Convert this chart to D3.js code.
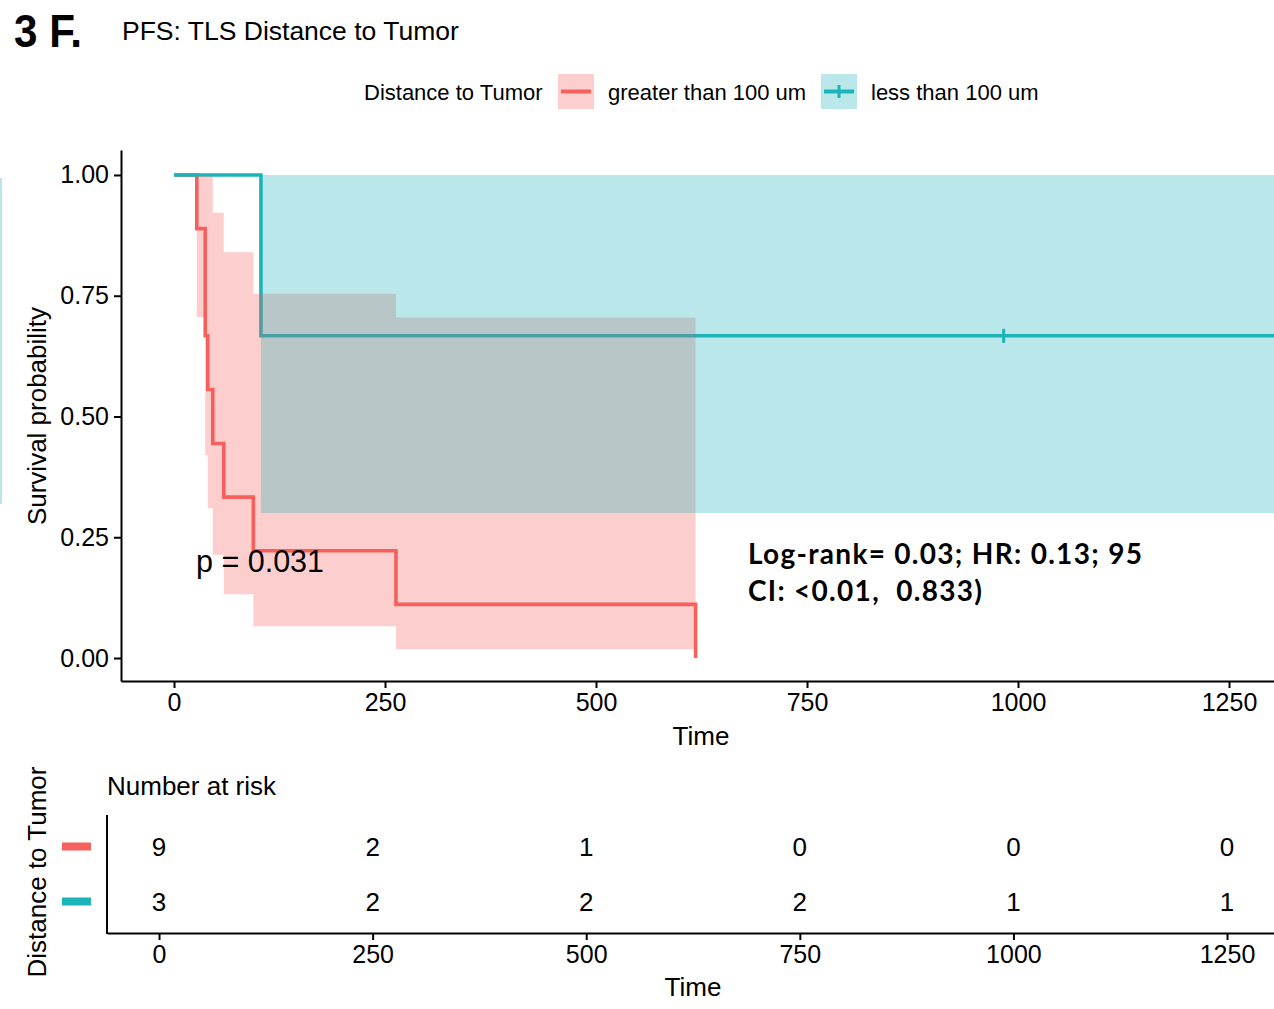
<!DOCTYPE html>
<html><head><meta charset="utf-8">
<script src="https://cdn.jsdelivr.net/npm/d3@7"></script>
<style>
html,body{margin:0;padding:0;background:#fff;overflow:hidden}
text{font-family:"Liberation Sans",Arial,sans-serif;fill:#000}
</style></head>
<body><svg id="c" width="1274" height="1009"></svg>
<script>
// ---- data ----
const groups = ["greater than 100 um", "less than 100 um"];
const colors = ["#F5615C", "#1CB4B8"];
// group 1: greater than 100 um (KM estimate with 95% CI)
const redTime  = [0, 27, 37, 40, 46, 59, 94, 263, 618];
const redSurv  = [1, 0.889, 0.667, 0.556, 0.444, 0.333, 0.222, 0.111, 0];
const redLower = [1, 0.706, 0.420, 0.310, 0.214, 0.132, 0.066, 0.018, 0.018];
const redUpper = [1, 1.000, 1.000, 0.997, 0.922, 0.840, 0.754, 0.705, 0.705];
// group 2: less than 100 um
const cyanTime  = [0, 103, 1312];
const cyanSurv  = [1, 0.667, 0.667];
const cyanLower = [1, 0.300, 0.300];
const cyanUpper = [1, 1.000, 1.000];
const cyanCensor = [983];
const xTicks = [0, 250, 500, 750, 1000, 1250];
const yTicks = [0, 0.25, 0.5, 0.75, 1];
const riskTimes = [0, 250, 500, 750, 1000, 1250];
const riskRed  = [9, 2, 1, 0, 0, 0];
const riskCyan = [3, 2, 2, 2, 1, 1];

// ---- drawing ----
const svg = d3.select("#c");
const FONT = '"Liberation Sans",Arial,sans-serif';

// stray strip at far left (part of the cropped figure)
svg.append("rect").attr("x",0).attr("y",178).attr("width",2).attr("height",326).attr("fill","#B9E5E7");

// titles
svg.append("text").attr("x",14).attr("y",47).text("3 F.")
  .attr("textLength",68).attr("lengthAdjust","spacingAndGlyphs")
  .style("font-weight","bold").style("font-size","46px");
svg.append("text").attr("x",122).attr("y",40).text("PFS: TLS Distance to Tumor").style("font-size","26.5px");

// main scales
const x = d3.scaleLinear().domain([-62.8, 1311.6]).range([121, 1281]);
const y = d3.scaleLinear().domain([-0.0476, 1.0517]).range([681, 150]);

const defs = svg.append("defs");
defs.append("clipPath").attr("id","panel").append("rect")
  .attr("x",121).attr("y",150).attr("width",1160).attr("height",531);

const g = svg.append("g").attr("clip-path","url(#panel)");

function steps(t, v) { return t.map((d,i)=>({t:d, v:v[i]})); }
function band(t, lo, hi) { return t.map((d,i)=>({t:d, lo:lo[i], hi:hi[i]})); }

const line = d3.line().curve(d3.curveStepAfter).x(d=>x(d.t)).y(d=>y(d.v));
const area = d3.area().curve(d3.curveStepAfter).x(d=>x(d.t)).y0(d=>y(d.lo)).y1(d=>y(d.hi));

// lines
g.append("path").attr("d", line(steps(redTime, redSurv)))
  .attr("fill","none").attr("stroke",colors[0]).attr("stroke-width",3.6);
g.append("path").attr("d", line(steps(cyanTime, cyanSurv)))
  .attr("fill","none").attr("stroke",colors[1]).attr("stroke-width",3.6);
// censor marks
const survAt = t => cyanSurv[d3.bisectRight(cyanTime, t) - 1];
g.selectAll(".cens").data(cyanCensor).enter().append("line")
  .attr("x1",d=>x(d)).attr("x2",d=>x(d))
  .attr("y1",d=>y(survAt(d))-7).attr("y2",d=>y(survAt(d))+7)
  .attr("stroke",colors[1]).attr("stroke-width",3);

// ribbons (drawn over lines, alpha 0.3)
g.append("path").attr("d", area(band(redTime.slice(1), redLower.slice(1), redUpper.slice(1))))
  .attr("fill",colors[0]).attr("fill-opacity",0.3);
g.append("path").attr("d", area(band(cyanTime.slice(1), cyanLower.slice(1), cyanUpper.slice(1))))
  .attr("fill",colors[1]).attr("fill-opacity",0.3);

// axes
function styleAxis(sel){
  sel.selectAll("path.domain").attr("stroke","#000").attr("stroke-width",2);
  sel.selectAll(".tick line").attr("stroke","#000").attr("stroke-width",2);
  sel.selectAll(".tick text").style("font-family",FONT).style("font-size","25px").attr("fill","#000");
}
const xa = svg.append("g").attr("transform","translate(0,681)")
  .call(d3.axisBottom(x).tickValues(xTicks).tickFormat(d3.format("d")).tickSize(7).tickSizeOuter(0).tickPadding(5));
styleAxis(xa);
const ya = svg.append("g").attr("transform","translate(121,0)")
  .call(d3.axisLeft(y).tickValues(yTicks).tickFormat(d3.format(".2f")).tickSize(7).tickSizeOuter(0).tickPadding(5));
styleAxis(ya);

svg.append("text").attr("x",701).attr("y",745).attr("text-anchor","middle").text("Time").style("font-size","26px");
svg.append("text").attr("transform","translate(46,416) rotate(-90)").attr("text-anchor","middle")
  .text("Survival probability").style("font-size","26px");

// p-value & annotation
svg.append("text").attr("x",196).attr("y",572).text("p = 0.031").style("font-size","30.5px");
const ann = svg.append("text").attr("x",748).attr("y",564)
  .style("font-family","Lato,'Open Sans',sans-serif").style("font-weight","bold")
  .style("font-size","28px").style("letter-spacing","1.3px");
ann.append("tspan").attr("x",748).attr("y",564).text("Log-rank= 0.03; HR: 0.13; 95");
ann.append("tspan").attr("x",748).attr("y",601).text("CI: <0.01,\u00A0 0.833)");

// legend
svg.append("text").attr("x",364).attr("y",100).text("Distance to Tumor").style("font-size","22px");
const legX = [558, 821], labX = [608, 871];
groups.forEach((gname,i)=>{
  svg.append("rect").attr("x",legX[i]).attr("y",74).attr("width",36).attr("height",35)
    .attr("fill",colors[i]).attr("fill-opacity",0.3);
  svg.append("line").attr("x1",legX[i]+3).attr("x2",legX[i]+33).attr("y1",91.5).attr("y2",91.5)
    .attr("stroke",colors[i]).attr("stroke-width",4);
  if (i===1) svg.append("line").attr("x1",legX[i]+18).attr("x2",legX[i]+18).attr("y1",85).attr("y2",98)
    .attr("stroke",colors[i]).attr("stroke-width",3);
  svg.append("text").attr("x",labX[i]).attr("y",100).text(gname).style("font-size","22px");
});

// risk table
const xr = d3.scaleLinear().domain([-60.9, 1312]).range([107, 1280]);
const yr = d3.scalePoint().domain(groups).range([815, 933]).padding(0.573);
svg.append("text").attr("x",107).attr("y",795).text("Number at risk").style("font-size","26px");
const xra = svg.append("g").attr("transform","translate(0,933)")
  .call(d3.axisBottom(xr).tickValues(riskTimes).tickFormat(d3.format("d")).tickSize(7).tickSizeOuter(0).tickPadding(5));
styleAxis(xra);
svg.append("line").attr("x1",107).attr("x2",107).attr("y1",815).attr("y2",934).attr("stroke","#000").attr("stroke-width",2);
[riskRed, riskCyan].forEach((arr,gi)=>{
  svg.selectAll(".r"+gi).data(arr).enter().append("text")
    .attr("x",(d,i)=>xr(riskTimes[i])).attr("y",yr(groups[gi])).attr("dy","0.36em")
    .attr("text-anchor","middle").text(d=>d).style("font-size","26px");
  svg.append("rect").attr("x",62).attr("y",yr(groups[gi])-4).attr("width",29).attr("height",8).attr("fill",colors[gi]);
});
svg.append("text").attr("x",693).attr("y",996).attr("text-anchor","middle").text("Time").style("font-size","26px");
svg.append("text").attr("transform","translate(46,872) rotate(-90)").attr("text-anchor","middle")
  .text("Distance to Tumor").style("font-size","26px");
</script></body></html>
